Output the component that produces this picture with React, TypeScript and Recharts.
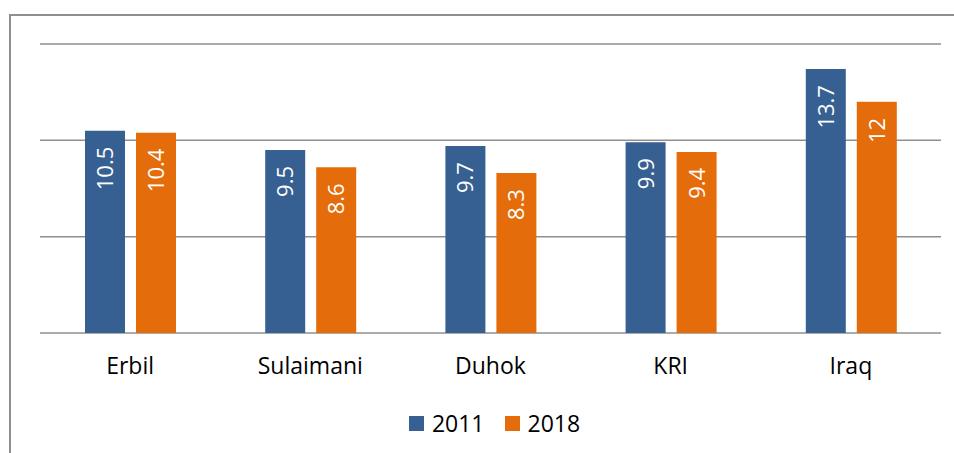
import { BarChart, Bar, XAxis, YAxis, CartesianGrid, Legend, LabelList } from 'recharts';

const regions = ['Erbil', 'Sulaimani', 'Duhok', 'KRI', 'Iraq'];
const values2011 = [10.5, 9.5, 9.7, 9.9, 13.7];
const values2018 = [10.4, 8.6, 8.3, 9.4, 12];
const yTicks = [0, 5, 10, 15];

const BLUE = '#376092';
const ORANGE = '#e46c0a';
const GRID = '#8f8f8f';
const FONT = '"Open Sans", sans-serif';

const data = regions.map((name, i) => ({
  name,
  y2011: values2011[i],
  y2018: values2018[i],
}));

const series = [
  { key: 'y2011', label: '2011', color: BLUE },
  { key: 'y2018', label: '2018', color: ORANGE },
];

// rotated value label sitting just under the top of each bar
function BarValue(props: any) {
  const { x, y, width, value } = props;
  const cx = x + width / 2;
  const ty = y + 16;
  return (
    <text
      x={cx}
      y={ty}
      dy="0.36em"
      transform={`rotate(-90, ${cx}, ${ty})`}
      textAnchor="end"
      fill="#ffffff"
      fontSize={22}
      fontFamily={FONT}
    >
      {value}
    </text>
  );
}

function LegendContent() {
  return (
    <div
      style={{
        display: 'flex',
        justifyContent: 'center',
        alignItems: 'center',
        height: 30,
        paddingLeft: 8,
        fontFamily: FONT,
        fontSize: 23,
        color: '#000',
      }}
    >
      {series.map((s, i) => (
        <div key={s.key} style={{ display: 'flex', alignItems: 'center', marginLeft: i === 0 ? 0 : 20 }}>
          <span style={{ width: 15, height: 15, background: s.color, marginRight: 8 }} />
          <span>{s.label}</span>
        </div>
      ))}
    </div>
  );
}

export default function App() {
  return (
    <div style={{ position: 'absolute', left: 0, top: 0, width: 954, height: 453, overflow: 'hidden', background: '#fff' }}>
      <div
        style={{
          position: 'absolute',
          left: 9,
          top: 14,
          width: 1000,
          height: 500,
          borderTop: `2px solid ${GRID}`,
          borderLeft: `2px solid ${GRID}`,
        }}
      />
      <BarChart
        width={954}
        height={453}
        data={data}
        margin={{ top: 44, right: 13, left: 40, bottom: 15 }}
        barSize={40}
        barGap={11}
        style={{ position: 'absolute', left: 0, top: 0 }}
      >
        <CartesianGrid horizontal vertical={false} stroke={GRID} strokeWidth={1.5} />
        <XAxis
          dataKey="name"
          axisLine={false}
          tickLine={false}
          tickSize={0}
          tickMargin={25}
          height={75}
          tick={{ fill: '#000', fontSize: 23, fontFamily: FONT }}
        />
        <YAxis hide domain={[0, 15]} ticks={yTicks} />
        <Legend verticalAlign="bottom" content={<LegendContent />} />
        {series.map((s) => (
          <Bar key={s.key} dataKey={s.key} name={s.label} fill={s.color} isAnimationActive={false}>
            <LabelList dataKey={s.key} content={<BarValue />} />
          </Bar>
        ))}
      </BarChart>
    </div>
  );
}
